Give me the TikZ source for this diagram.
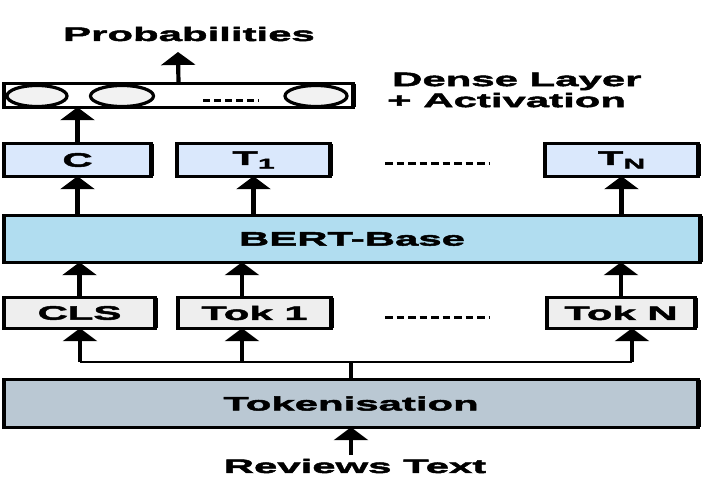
\documentclass[tikz,border=0pt]{standalone}
\usepackage{fontspec}
\setmainfont{Liberation Sans}[FakeStretch=2.15,FakeBold=2.5]
\usetikzlibrary{arrows.meta,shapes.geometric}
\definecolor{cblue}{HTML}{DAE8FC}
\definecolor{bertc}{HTML}{B1DDF0}
\definecolor{tokg}{HTML}{EEEEEE}
\definecolor{tokn}{HTML}{BAC8D3}
\definecolor{ellg}{HTML}{F2F2F2}
\newcommand\myframe[1]{%
  \draw[line width=2.8pt] (#1.north west) rectangle (#1.south east);
  \draw[line width=4.6pt] (#1.north west) -- (#1.south west) (#1.north east) -- (#1.south east);}
\newcommand\subtxt[1]{\raisebox{-0.35ex}{\fontsize{14}{14}\selectfont #1}}
\begin{document}
\begin{tikzpicture}[x=1pt,y=-1pt,
  font=\fontsize{19.5}{21}\selectfont\bfseries,
  box/.style={draw=none, rectangle, inner sep=0pt},
  ell/.style={ellipse, draw, line width=3.2pt, fill=ellg, minimum height=21pt, inner sep=0pt},
  arr/.style={line width=4.2pt, -{Triangle[width=34pt,length=13pt]}},
  dots/.style={line width=3pt, dash pattern=on 7.5pt off 4pt},
  lbl/.style={inner sep=0pt}]
\useasboundingbox (0,0) rectangle (707,477);
\fill[white] (0,0) rectangle (707,477);

% dense layer
\node[box, fill=white, minimum width=349pt, minimum height=23pt] (dense) at (178.5,95.5) {};
\begin{scope}
  \clip (dense.north west) rectangle (dense.south east);
  \node[ell, minimum width=60pt] (e1) at (37,96) {};
  \node[ell, minimum width=63pt] (e2) at (122,96) {};
  \node[ell, minimum width=62pt] (e3) at (316,96) {};
\end{scope}
\myframe{dense}
\draw[line width=3pt, dash pattern=on 7pt off 4pt] (203,100) -- (259,100);

\node[lbl] (prob) at (189,34) {Probabilities};
\coordinate (probtip) at (178,52);
\node[lbl, anchor=west, align=left] (dlab) at (387,90) {\hspace*{5pt}Dense Layer\\+ Activation};

% output boxes
\node[box, fill=cblue, minimum width=147pt, minimum height=32pt] (c) at (77.5,160) {C};
\node[box, fill=cblue, minimum width=153pt, minimum height=32pt] (t1) at (253.5,160) {T\subtxt{1}};
\node[box, fill=cblue, minimum width=153pt, minimum height=32pt] (tn) at (621.5,160) {T\subtxt{N}};
\myframe{c}\myframe{t1}\myframe{tn}
\draw[dots] (385,163) -- (489,163);

% BERT
\node[box, fill=bertc, minimum width=696pt, minimum height=46pt] (bert) at (352,239) {BERT-Base};
\myframe{bert}

% token boxes
\node[box, fill=tokg, minimum width=151pt, minimum height=30pt] (cls) at (79.5,313) {CLS};
\node[box, fill=tokg, minimum width=153pt, minimum height=30pt] (tok1) at (254.5,313) {Tok 1};
\node[box, fill=tokg, minimum width=148pt, minimum height=30pt] (tokN) at (621,313) {Tok N};
\myframe{cls}\myframe{tok1}\myframe{tokN}
\draw[dots] (385,317) -- (489,317);

% tokenisation
\node[box, fill=tokn, minimum width=694pt, minimum height=47pt] (tokz) at (351,403.5) {Tokenisation};
\myframe{tokz}
\node[lbl] (rev) at (355,466) {Reviews Text};
\coordinate (revtail) at (351,455);

% connectors
\coordinate (h0) at (80,362);
\coordinate (h1) at (242,362);
\coordinate (hN) at (632,362);
\draw[line width=2.8pt] (h0) -- (hN);
\draw[line width=4.2pt] (tokz.north) -- (tokz.north |- h0);
\draw[arr] (revtail) -- (tokz.south);
\draw[arr] (h0) -- (h0 |- cls.south);
\draw[arr] (h1) -- (h1 |- tok1.south);
\draw[arr] (hN) -- (hN |- tokN.south);
\draw[arr] (cls.north) -- (cls.north |- bert.south);
\draw[arr] (tok1.north -| h1) -- (h1 |- bert.south);
\draw[arr] (tokN.north) -- (tokN.north |- bert.south);
\draw[arr] (c.south |- bert.north) -- (c.south);
\draw[arr] (t1.south |- bert.north) -- (t1.south);
\draw[arr] (tn.south |- bert.north) -- (tn.south);
\draw[arr] (c.north) -- (c.north |- dense.south);
\draw[arr] (dense.north) -- (probtip);
\end{tikzpicture}
\end{document}
